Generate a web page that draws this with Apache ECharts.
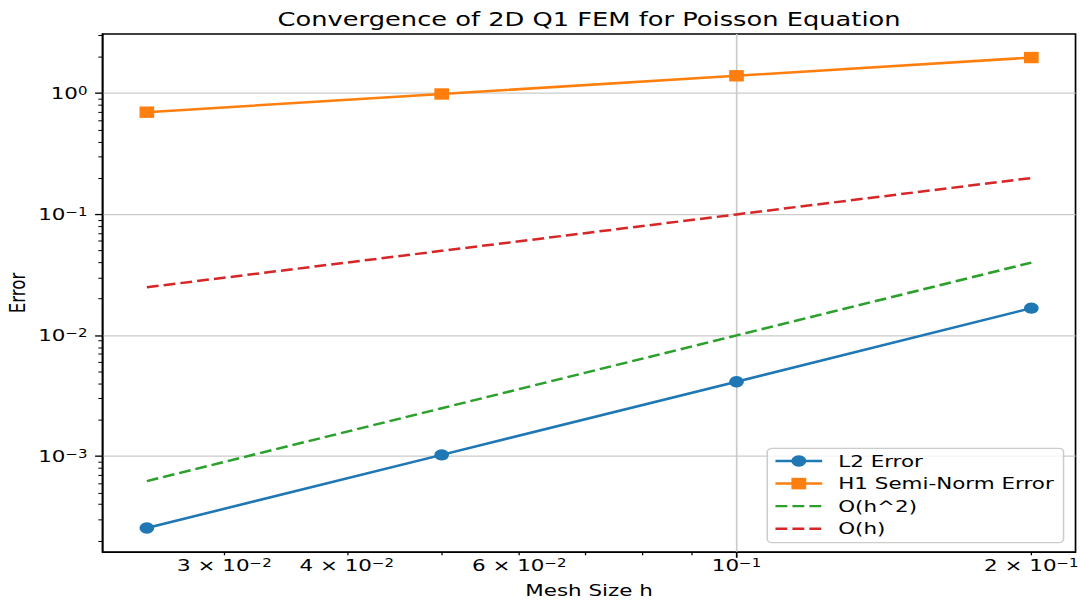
<!DOCTYPE html>
<html><head><meta charset="utf-8">
<script src="https://cdn.jsdelivr.net/npm/echarts@6/dist/echarts.min.js"></script>
<style>
html,body{margin:0;padding:0;background:#fff;overflow:hidden;width:1080px;height:601px}
#wrap{width:1080px;height:601px;overflow:hidden;position:relative;background:#fff}
#chart{width:700px;height:500px;position:absolute;left:0;top:0;transform:scale(1.542857,1.202);transform-origin:0 0}
</style></head><body><div id="wrap"><div id="chart"></div></div>
<script>
// ---- data ----
const meshSize = [0.025, 0.05, 0.1, 0.2];
const l2Error = [2.56e-4, 1.03e-3, 4.14e-3, 1.68e-2];
const h1Error = [0.70, 0.99, 1.40, 1.98];
const refH2 = [0.000625, 0.0025, 0.01, 0.04];
const refH = [0.025, 0.05, 0.1, 0.2];
const seriesNames = ['L2 Error', 'H1 Semi-Norm Error', 'O(h^2)', 'O(h)'];
const titleText = 'Convergence of 2D Q1 FEM for Poisson Equation';
const xName = 'Mesh Size h';
const yName = 'Error';
// tick labels
const xLabelValues = [0.03, 0.04, 0.06, 0.1, 0.2];
const xLabelMantissa = ['3', '4', '6', '', '2'];
const xLabelExponent = ['\u22122', '\u22122', '\u22122', '\u22121', '\u22121'];
const yLabelValues = [0.001, 0.01, 0.1, 1];
const yLabelMantissa = ['', '', '', ''];
const yLabelExponent = ['\u22123', '\u22122', '\u22121', '0'];
// ticks
const xMajorTicks = [0.1];
const xMinorTicks = [0.03, 0.04, 0.05, 0.06, 0.07, 0.08, 0.09, 0.2];
const yMajorTicks = [0.001, 0.01, 0.1, 1];
const yMinorTicks = [0.0002, 0.0003, 0.0004, 0.0005, 0.0006, 0.0007, 0.0008, 0.0009,
  0.002, 0.003, 0.004, 0.005, 0.006, 0.007, 0.008, 0.009,
  0.02, 0.03, 0.04, 0.05, 0.06, 0.07, 0.08, 0.09,
  0.2, 0.3, 0.4, 0.5, 0.6, 0.7, 0.8, 0.9, 2, 3];
const xRange = [0.02253, 0.2219];
const yRange = [1.622e-4, 3.099];

const colors = ['#1f77b4', '#ff7f0e', '#2ca02c', '#d62728'];
const FONT = 'DejaVu Sans';
const fs = 13.9;

function pairs(xs, ys) { return xs.map((x, i) => [x, ys[i]]); }
function labelFor(v, vals, mant, expo) {
  let best = -1, bd = 1e9;
  for (const cand of [v, Math.pow(10, v)]) {
    if (!(cand > 0)) continue;
    for (let i = 0; i < vals.length; i++) {
      const d = Math.abs(Math.log10(cand) - Math.log10(vals[i]));
      if (d < bd) { bd = d; best = i; }
    }
  }
  if (best < 0 || bd > 1e-4) return '';
  const m = mant[best];
  return (m ? '{b|' + m + ' \u00d7 10}' : '{b|10}') + '{s|' + expo[best] + '}';
}
const rich = {
  b: { fontSize: fs, lineHeight: 14, verticalAlign: 'middle', color: '#000', fontFamily: FONT },
  s: { fontSize: 9.7, lineHeight: 10, verticalAlign: 'top', padding: [0, 0, 9.2, 0], color: '#000', fontFamily: FONT }
};

const chart = echarts.init(document.getElementById('chart'), null, { renderer: 'svg' });
const tickStyleMajor = { color: '#000', width: 1.1 };
const tickStyleMinor = { color: '#000', width: 0.83 };
const gridLine = { color: '#cbcbcb', width: 1.1 };

chart.setOption({
  animation: false,
  backgroundColor: '#fff',
  textStyle: { fontFamily: FONT },
  title: {
    text: titleText,
    left: 381.8, top: 7.2, textAlign: 'center', padding: 0,
    textStyle: { fontSize: 16.67, fontWeight: 'normal', color: '#000', fontFamily: FONT, lineHeight: 17 }
  },
  grid: {
    left: 66.5, right: 2.9, top: 28.3, bottom: 40.8,
    show: true, borderColor: '#000', borderWidth: 1.1, backgroundColor: 'transparent',
    containLabel: false, outerBoundsMode: 'none'
  },
  legend: {
    orient: 'vertical', left: 497.3, top: 373,
    padding: [3.5, 6.4, 4.6, 4.3], itemGap: 4.8, itemWidth: 30.3, itemHeight: 12,
    backgroundColor: 'rgba(255,255,255,0.8)', borderColor: '#cccccc', borderWidth: 1, borderRadius: 3,
    selectedMode: false,
    textStyle: { fontSize: fs, color: '#000', fontFamily: FONT, lineHeight: 14, padding: [0, 0, 0, 5.4] },
    data: [
      { name: seriesNames[0] },
      { name: seriesNames[1] },
      { name: seriesNames[2], itemStyle: { opacity: 0 } },
      { name: seriesNames[3], itemStyle: { opacity: 0 } }
    ]
  },
  xAxis: [
    {
      type: 'log', gridIndex: 0, position: 'bottom', min: xRange[0], max: xRange[1],
      name: xName, nameLocation: 'middle', nameGap: 24.6, nameMoveOverlap: false,
      nameTextStyle: { fontSize: fs, color: '#000', fontFamily: FONT, lineHeight: 14 },
      axisLine: { show: true, onZero: false, lineStyle: { color: '#000', width: 1.1 } },
      axisTick: { show: true, inside: false, length: 4.86, customValues: xMajorTicks, lineStyle: tickStyleMajor },
      axisLabel: {
        show: true, margin: 4.4, customValues: xLabelValues,
        formatter: v => labelFor(v, xLabelValues, xLabelMantissa, xLabelExponent), rich: rich
      },
      splitLine: { show: true, lineStyle: gridLine },
      minorTick: { show: false }, minorSplitLine: { show: false }
    },
    {
      type: 'log', gridIndex: 0, position: 'bottom', min: xRange[0], max: xRange[1],
      axisLine: { show: false },
      axisTick: { show: true, inside: false, length: 2.78, customValues: xMinorTicks, lineStyle: tickStyleMinor },
      axisLabel: { show: false },
      splitLine: { show: false }
    }
  ],
  yAxis: [
    {
      type: 'log', gridIndex: 0, position: 'left', min: yRange[0], max: yRange[1],
      name: yName, nameLocation: 'middle', nameGap: 47.8, nameMoveOverlap: false,
      nameTextStyle: { fontSize: fs, color: '#000', fontFamily: FONT, lineHeight: 14 },
      axisLine: { show: true, onZero: false, lineStyle: { color: '#000', width: 1.1 } },
      axisTick: { show: true, inside: false, length: 4.86, customValues: yMajorTicks, lineStyle: tickStyleMajor },
      axisLabel: {
        show: true, margin: 9.8, customValues: yLabelValues, align: 'right',
        formatter: v => labelFor(v, yLabelValues, yLabelMantissa, yLabelExponent), rich: rich
      },
      splitLine: { show: true, lineStyle: gridLine },
      minorTick: { show: false }, minorSplitLine: { show: false }
    },
    {
      type: 'log', gridIndex: 0, position: 'left', min: yRange[0], max: yRange[1],
      axisLine: { show: false },
      axisTick: { show: true, inside: false, length: 2.78, customValues: yMinorTicks, lineStyle: tickStyleMinor },
      axisLabel: { show: false },
      splitLine: { show: false }
    }
  ],
  series: [
    {
      name: seriesNames[0], type: 'line', xAxisIndex: 0, yAxisIndex: 0,
      data: pairs(meshSize, l2Error), symbol: 'circle', symbolSize: 9.5, showSymbol: true,
      lineStyle: { color: colors[0], width: 2.08 }, itemStyle: { color: colors[0] }, z: 3
    },
    {
      name: seriesNames[1], type: 'line', xAxisIndex: 0, yAxisIndex: 0,
      data: pairs(meshSize, h1Error), symbol: 'rect', symbolSize: 9.5, showSymbol: true,
      lineStyle: { color: colors[1], width: 2.08 }, itemStyle: { color: colors[1] }, z: 4
    },
    {
      name: seriesNames[2], type: 'line', xAxisIndex: 0, yAxisIndex: 0,
      data: pairs(meshSize, refH2), symbol: 'none', showSymbol: false,
      lineStyle: { color: colors[2], width: 2.08, type: [7.7, 3.3] }, itemStyle: { color: colors[2] }, z: 5
    },
    {
      name: seriesNames[3], type: 'line', xAxisIndex: 0, yAxisIndex: 0,
      data: pairs(meshSize, refH), symbol: 'none', showSymbol: false,
      lineStyle: { color: colors[3], width: 2.08, type: [7.7, 3.3] }, itemStyle: { color: colors[3] }, z: 6
    }
  ]
});
</script></body></html>
